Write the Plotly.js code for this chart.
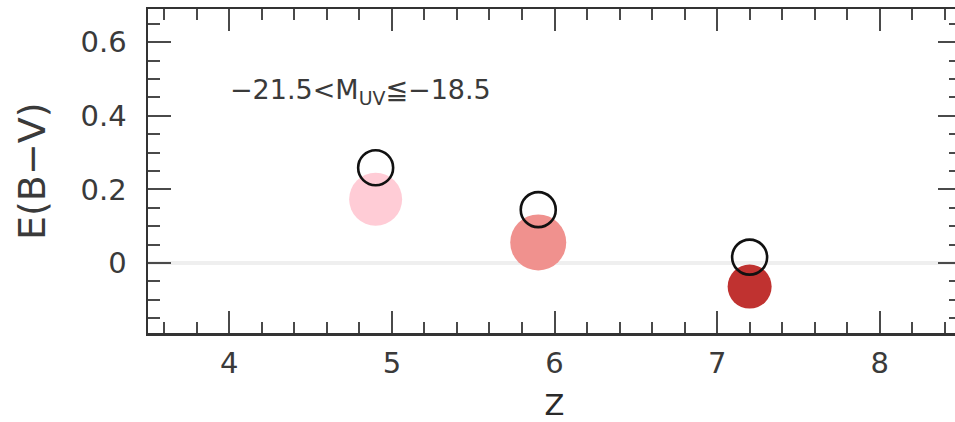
<!DOCTYPE html>
<html>
<head>
<meta charset="utf-8">
<script src="https://cdn.plot.ly/plotly-3.0.1.min.js"></script>
<style>
html,body{margin:0;padding:0;background:#fff;overflow:hidden;width:955px;height:422px;}
#chart{width:966px;height:422px;}
</style>
</head>
<body>
<div id="chart"></div>
<script>
// Data
const redshift = [4.9, 5.9, 7.2];
const ebvFilled = [0.173, 0.056, -0.064];
const ebvOpen = [0.259, 0.145, 0.016];
const filledSizes = [53, 56, 44];
const filledColors = ['#ffccd6', '#f0918e', '#c03230'];
const xTickVals = [4, 5, 6, 7, 8];
const yTickVals = [0, 0.2, 0.4, 0.6];
const yTickText = ['0', '0.2', '0.4', '0.6'];
const labelText = '\u221221.5<M<sub>UV</sub>\u2266\u221218.5';

const font = 'DejaVu Sans, Liberation Sans, sans-serif';

const traces = [
  {
    x: redshift, y: ebvFilled, type: 'scatter', mode: 'markers',
    marker: {size: filledSizes, color: filledColors, opacity: 1, line: {width: 0}},
    hoverinfo: 'skip', showlegend: false
  },
  {
    x: redshift, y: ebvOpen, type: 'scatter', mode: 'markers',
    marker: {size: 35, color: 'rgba(0,0,0,0)', opacity: 1, line: {width: 2.6, color: '#111'}},
    hoverinfo: 'skip', showlegend: false
  }
];

const layout = {
  width: 966, height: 422,
  margin: {l: 148, r: 5, t: 9, b: 89},
  paper_bgcolor: '#fff', plot_bgcolor: '#fff',
  font: {family: font, color: '#3a3a3a'},
  xaxis: {
    range: [3.5, 8.5], tickvals: xTickVals,
    ticks: 'inside', ticklen: 22, tickwidth: 2, tickcolor: '#4a4a4a',
    minor: {dtick: 0.2, ticks: 'inside', ticklen: 11, tickwidth: 2, tickcolor: '#4a4a4a', showgrid: false},
    showline: true, linecolor: '#333', linewidth: 2.5, mirror: 'ticks',
    showgrid: false, zeroline: false,
    tickfont: {size: 29, color: '#3a3a3a', family: font},
    ticklabelstandoff: 3,
    title: {text: 'Z', font: {size: 29, color: '#2a2a2a', family: font}, standoff: 17}
  },
  yaxis: {
    range: [-0.19, 0.69], tickvals: yTickVals, ticktext: yTickText,
    ticks: 'inside', ticklen: 23, tickwidth: 2, tickcolor: '#4a4a4a',
    minor: {dtick: 0.05, ticks: 'inside', ticklen: 12, tickwidth: 2, tickcolor: '#4a4a4a', showgrid: false},
    showline: true, linecolor: '#333', linewidth: 2.5, mirror: 'ticks',
    showgrid: false, zeroline: true, zerolinecolor: '#efefef', zerolinewidth: 4,
    tickfont: {size: 29, color: '#3a3a3a', family: font},
    ticklabelstandoff: 13
  },
  annotations: [
    {
      text: labelText, xref: 'x', yref: 'y', x: 3.995, y: 0.465,
      xanchor: 'left', yanchor: 'middle', showarrow: false,
      font: {size: 27, color: '#3a3a3a', family: font}
    },
    {
      text: 'E(B\u2212V)', xref: 'paper', yref: 'paper', x: 0, y: 0.5,
      xanchor: 'center', yanchor: 'middle', xshift: -116, textangle: -90,
      showarrow: false, font: {size: 38, color: '#3a3a3a', family: font}
    }
  ]
};

Plotly.newPlot('chart', traces, layout, {staticPlot: true, displayModeBar: false});
</script>
</body>
</html>
